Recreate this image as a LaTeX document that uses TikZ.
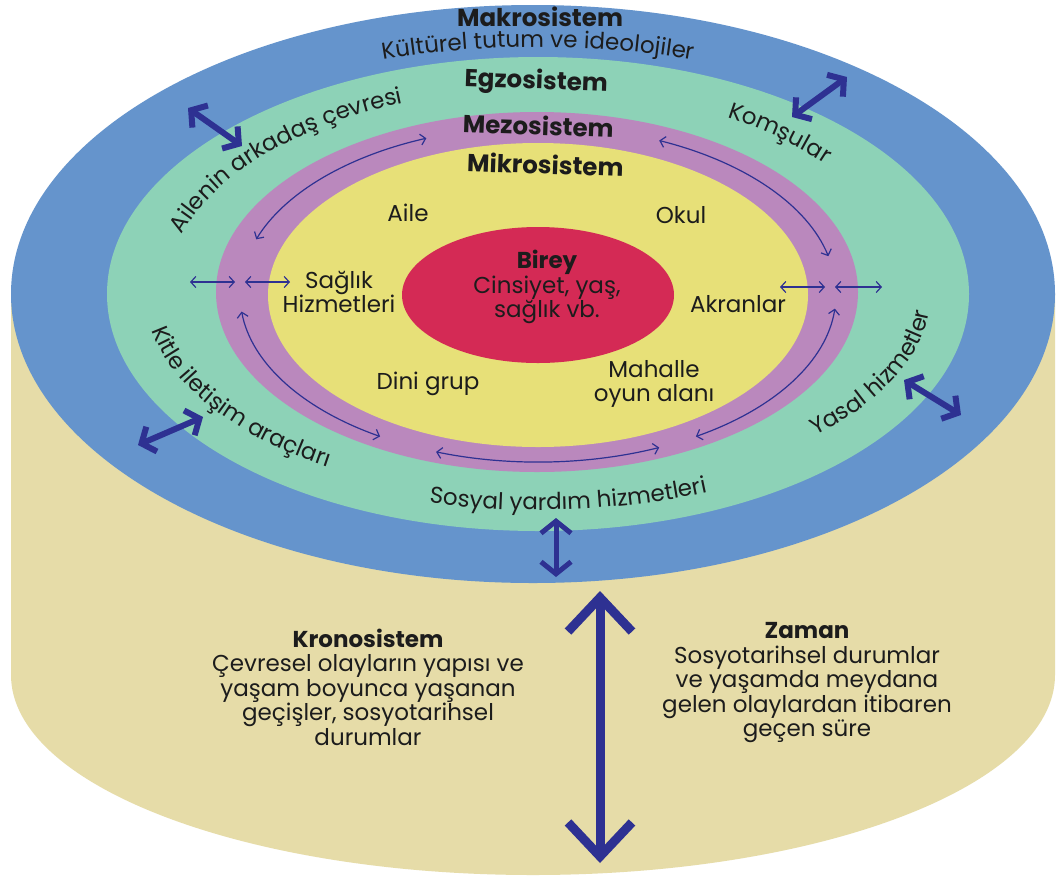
\documentclass[tikz,border=0pt]{standalone}
\usepackage{fontspec}
\setmainfont{Poppins}
\usetikzlibrary{arrows.meta,decorations.text,calc}

\definecolor{macro}{HTML}{6594CC}
\definecolor{exo}{HTML}{8DD2B7}
\definecolor{meso}{HTML}{BA88BD}
\definecolor{micro}{HTML}{E7E078}
\definecolor{self}{HTML}{D42A55}
\definecolor{chrono}{HTML}{E6DCA8}
\definecolor{navy}{HTML}{2E3192}
\definecolor{ink}{HTML}{1C1C1C}

\newcommand\lblfont{\fontsize{23}{24.5}\selectfont}
\newcommand\ttlfont{\fontsize{24.5}{26}\selectfont\bfseries}

\begin{document}
\begin{tikzpicture}[x=1pt,y=-1pt,
  lbl/.style={text=ink, font=\lblfont, align=center, inner sep=0pt},
  ttl/.style={text=ink, font=\ttlfont, inner sep=0pt, anchor=base},
  bigarrow/.style={draw=navy, line width=6pt,
    {Straight Barb[length=11pt,width=27pt]}-{Straight Barb[length=11pt,width=27pt]}},
  thinarrow/.style={draw=navy, line width=1.2pt,
    {Straight Barb[length=5pt,width=11pt]}-{Straight Barb[length=5pt,width=11pt]}},
  ringtext/.style={decorate, decoration={text along path, text align=center,
    text color=ink, text={|\lblfont|#1}}},
]
\useasboundingbox (0,0) rectangle (1057,884);
\fill[white] (0,0) rectangle (1057,884);

% cylinder body: the chronosystem
\fill[chrono] (11,294) -- (11,675)
  arc[start angle=180, end angle=0, x radius=522, y radius=200] -- (1055,294) -- cycle;

% nested systems seen from above
\fill[macro] (533,294) ellipse[x radius=522, y radius=289];
\fill[exo]   (538,294) ellipse[x radius=431, y radius=237];
\fill[meso]  (537,292) ellipse[x radius=321, y radius=180];
\fill[micro] (538,295) ellipse[x radius=270, y radius=152];
\fill[self]  (538,295) ellipse[x radius=136, y radius=68];

\coordinate (O) at (538,294);

% ring titles
\node[ttl] (makro) at (540,26) {Makrosistem};
\node[ttl, rotate=-2] (egzo) at (536,89) {Egzosistem};
\node[ttl, rotate=-2] (mezo) at (538,135) {Mezosistem};
\node[ttl, rotate=-2] (mikro) at (545,174) {Mikrosistem};

% curved labels in the rings
\path[ringtext={Kültürel tutum ve ideolojiler}]
  ([shift={(O)}]230:490 and 247) arc[start angle=230, end angle=310, x radius=490, y radius=247];
\path[ringtext={Ailenin arkadaş çevresi}]
  ([shift={(O)}]174:372 and 205) arc[start angle=174, end angle=262, x radius=372, y radius=205];
\path[ringtext={Komşular}]
  ([shift={(O)}]291:372 and 205) arc[start angle=291, end angle=333, x radius=372, y radius=205];
\path[ringtext={Kitle iletişim araçları}]
  ([shift={(O)}]181:392 and 205) arc[start angle=181, end angle=116, x radius=392, y radius=205];
\path[ringtext={Sosyal yardım hizmetleri}]
  ([shift={(O)}]114:430 and 216) arc[start angle=114, end angle=57, x radius=430, y radius=216];
\path[ringtext={Yasal hizmetler}]
  ([shift={(O)}]52:393 and 200) arc[start angle=52, end angle=-6, x radius=393, y radius=200];

% microsystem labels
\node[lbl] (aile) at (408,213) {Aile};
\node[lbl] (okul) at (681,215) {Okul};
\node[lbl] (saglik) at (339,292) {Sağlık\\Hizmetleri};
\node[lbl] (akran) at (738,304) {Akranlar};
\node[lbl] (dini) at (428,384) {Dini grup};
\node[lbl] (mahalle) at (654,384) {Mahalle\\oyun alanı};
\node[lbl] (birey) at (547,287) {\textbf{Birey}\\Cinsiyet, yaş,\\sağlık vb.};

% chronosystem labels
\node[lbl] (krono) at (368,687) {\textbf{Kronosistem}\\Çevresel olayların yapısı ve\\yaşam boyunca yaşanan\\geçişler, sosyotarihsel\\durumlar};
\node[lbl] (zaman) at (807,683) {\textbf{Zaman}\\Sosyotarihsel durumlar\\ve yaşamda meydana\\gelen olaylardan itibaren\\geçen süre};

% mesosystem links inside the purple ring
\draw[thinarrow] ([shift={(O)}]199:298 and 168) arc[start angle=199, end angle=248, x radius=298, y radius=168];
\draw[thinarrow] ([shift={(O)}]294:298 and 168) arc[start angle=294, end angle=347, x radius=298, y radius=168];
\draw[thinarrow] ([shift={(O)}]174:298 and 168) arc[start angle=174, end angle=122, x radius=298, y radius=168];
\draw[thinarrow] ([shift={(O)}]110:298 and 168) arc[start angle=110, end angle=66, x radius=298, y radius=168];
\draw[thinarrow] ([shift={(O)}]58:298 and 168) arc[start angle=58, end angle=5, x radius=298, y radius=168];

% short horizontal links across the rings
\coordinate (l1a) at (190,282); \coordinate (l1b) at (235,282);
\coordinate (l2a) at (245,282); \coordinate (l2b) at (290,282);
\coordinate (r1a) at (780,287); \coordinate (r1b) at (825,287);
\coordinate (r2a) at (835,287); \coordinate (r2b) at (882,287);
\draw[thinarrow] (l1a) -- (l1b);
\draw[thinarrow] (l2a) -- (l2b);
\draw[thinarrow] (r1a) -- (r1b);
\draw[thinarrow] (r2a) -- (r2b);

% heavy links between egzosystem and macrosystem
\coordinate (a1) at (188,108); \coordinate (b1) at (242,146);
\coordinate (a2) at (792,117); \coordinate (b2) at (847,77);
\coordinate (a3) at (138,445); \coordinate (b3) at (203,417);
\coordinate (a4) at (904,380); \coordinate (b4) at (961,415);
\coordinate (a5) at (556,518); \coordinate (b5) at (556,577);
\draw[bigarrow] (a1) -- (b1);
\draw[bigarrow] (a2) -- (b2);
\draw[bigarrow] (a3) -- (b3);
\draw[bigarrow] (a4) -- (b4);
\draw[bigarrow, {Straight Barb[length=12pt,width=30pt]}-{Straight Barb[length=12pt,width=30pt]}, line width=5pt] (a5) -- (b5);

% time axis
\coordinate (t1) at (600,591); \coordinate (t2) at (600,863);
\draw[draw=navy, line width=9pt,
  {Straight Barb[length=34pt,width=64pt]}-{Straight Barb[length=34pt,width=64pt]}] (t1) -- (t2);
\end{tikzpicture}
\end{document}
